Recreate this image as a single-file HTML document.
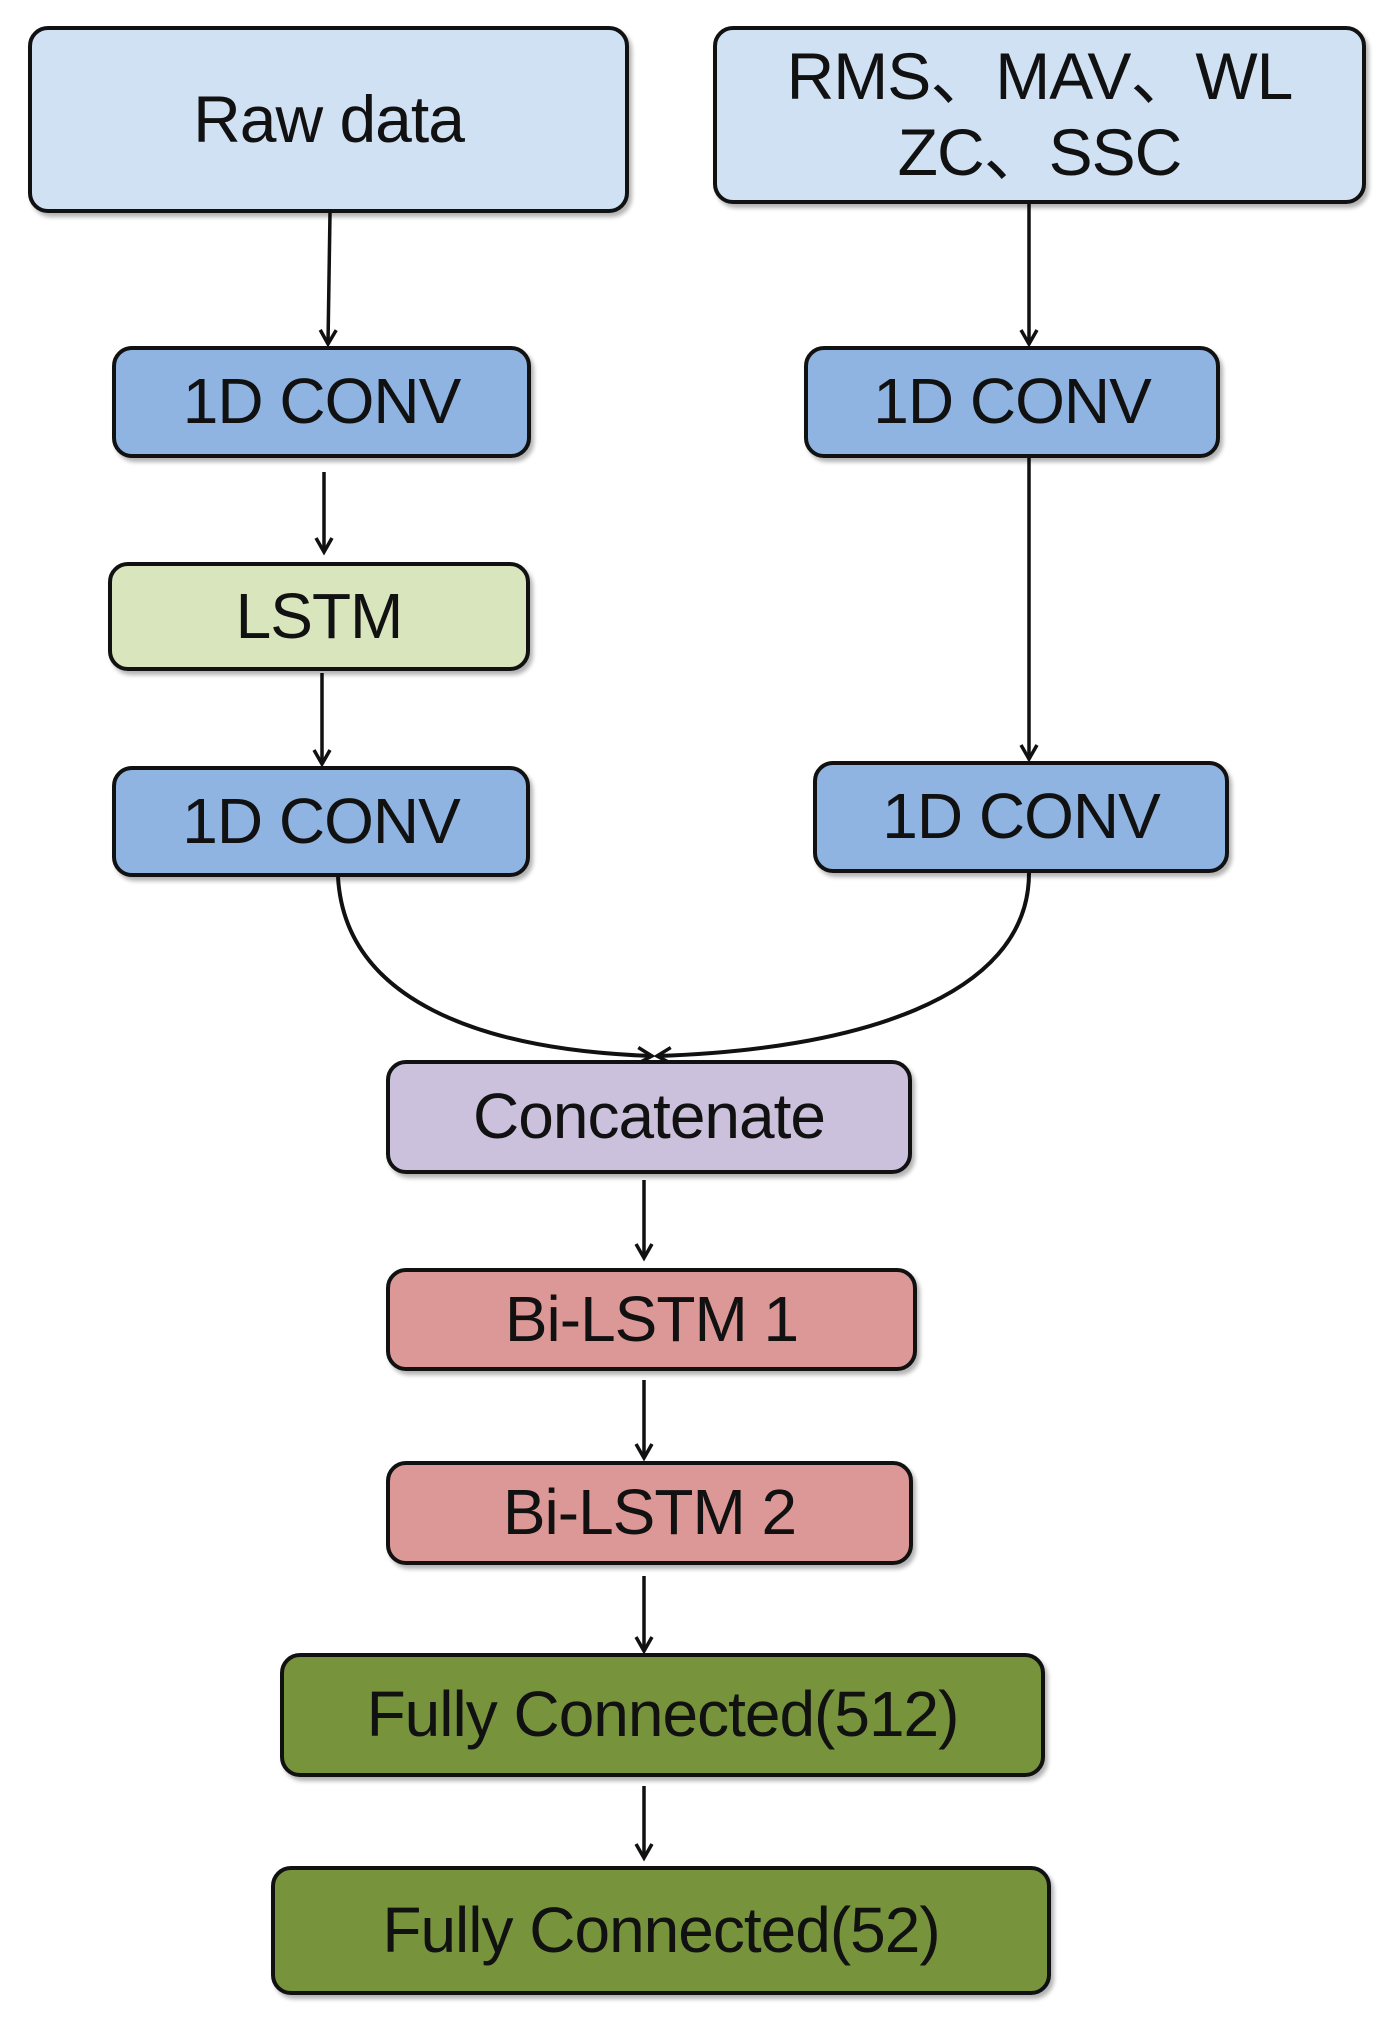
<!DOCTYPE html>
<html><head><meta charset="utf-8"><style>
html,body{margin:0;padding:0;background:#fff;}
body{width:1393px;height:2019px;position:relative;overflow:hidden;font-family:"Liberation Sans","Noto Sans CJK SC",sans-serif;}
.b{position:absolute;box-sizing:border-box;border:4px solid #111;border-radius:20px;display:flex;align-items:center;justify-content:center;text-align:center;color:#111;font-size:64px;line-height:1.15;box-shadow:3px 4px 4px rgba(0,0,0,0.3);letter-spacing:-1px;}
.lb{background:#cfe1f3;}
.mb{background:#8fb4e2;}
.g{background:#d8e5bd;}
.p{background:#ccc1dc;}
.r{background:#dc9896;}
.o{background:#77943d;}
svg{position:absolute;left:0;top:0;}
</style></head><body>
<svg width="1393" height="2019">
<defs><marker id="a" markerWidth="20" markerHeight="20" refX="16" refY="10" orient="auto" markerUnits="userSpaceOnUse"><path d="M2,2 L16,10 L2,18" fill="none" stroke="#111" stroke-width="3.5"/></marker></defs>
<g stroke="#111" stroke-width="3.5" fill="none" marker-end="url(#a)">
<line x1="330" y1="213" x2="328" y2="344"/>
<line x1="1029" y1="204" x2="1029" y2="344"/>
<line x1="324" y1="472" x2="324" y2="552"/>
<line x1="322" y1="673" x2="322" y2="764"/>
<line x1="1029" y1="458" x2="1029" y2="759"/>
<path d="M338,877 C345,1000 480,1050 652,1056" stroke-width="4"/>
<path d="M1029,873 C1029,1000 850,1050 657,1056" stroke-width="4"/>
<line x1="644" y1="1180" x2="644" y2="1258"/>
<line x1="644" y1="1380" x2="644" y2="1458"/>
<line x1="644" y1="1576" x2="644" y2="1651"/>
<line x1="644" y1="1786" x2="644" y2="1858"/>
</g>
</svg>
<div class="b lb" style="left:28px;top:26px;width:601px;height:187px;font-size:66px;">Raw data</div>
<div class="b lb" style="left:713px;top:26px;width:653px;height:178px;font-size:66px;">RMS、MAV、WL<br>ZC、SSC</div>
<div class="b mb" style="left:112px;top:346px;width:419px;height:112px;">1D CONV</div>
<div class="b mb" style="left:804px;top:346px;width:416px;height:112px;">1D CONV</div>
<div class="b g" style="left:108px;top:562px;width:422px;height:109px;">LSTM</div>
<div class="b mb" style="left:112px;top:766px;width:418px;height:111px;">1D CONV</div>
<div class="b mb" style="left:813px;top:761px;width:416px;height:112px;">1D CONV</div>
<div class="b p" style="left:386px;top:1060px;width:526px;height:114px;">Concatenate</div>
<div class="b r" style="left:386px;top:1268px;width:531px;height:103px;">Bi-LSTM 1</div>
<div class="b r" style="left:386px;top:1461px;width:527px;height:104px;">Bi-LSTM 2</div>
<div class="b o" style="left:280px;top:1653px;width:765px;height:124px;">Fully Connected(512)</div>
<div class="b o" style="left:271px;top:1866px;width:780px;height:129px;">Fully Connected(52)</div>
</body></html>
